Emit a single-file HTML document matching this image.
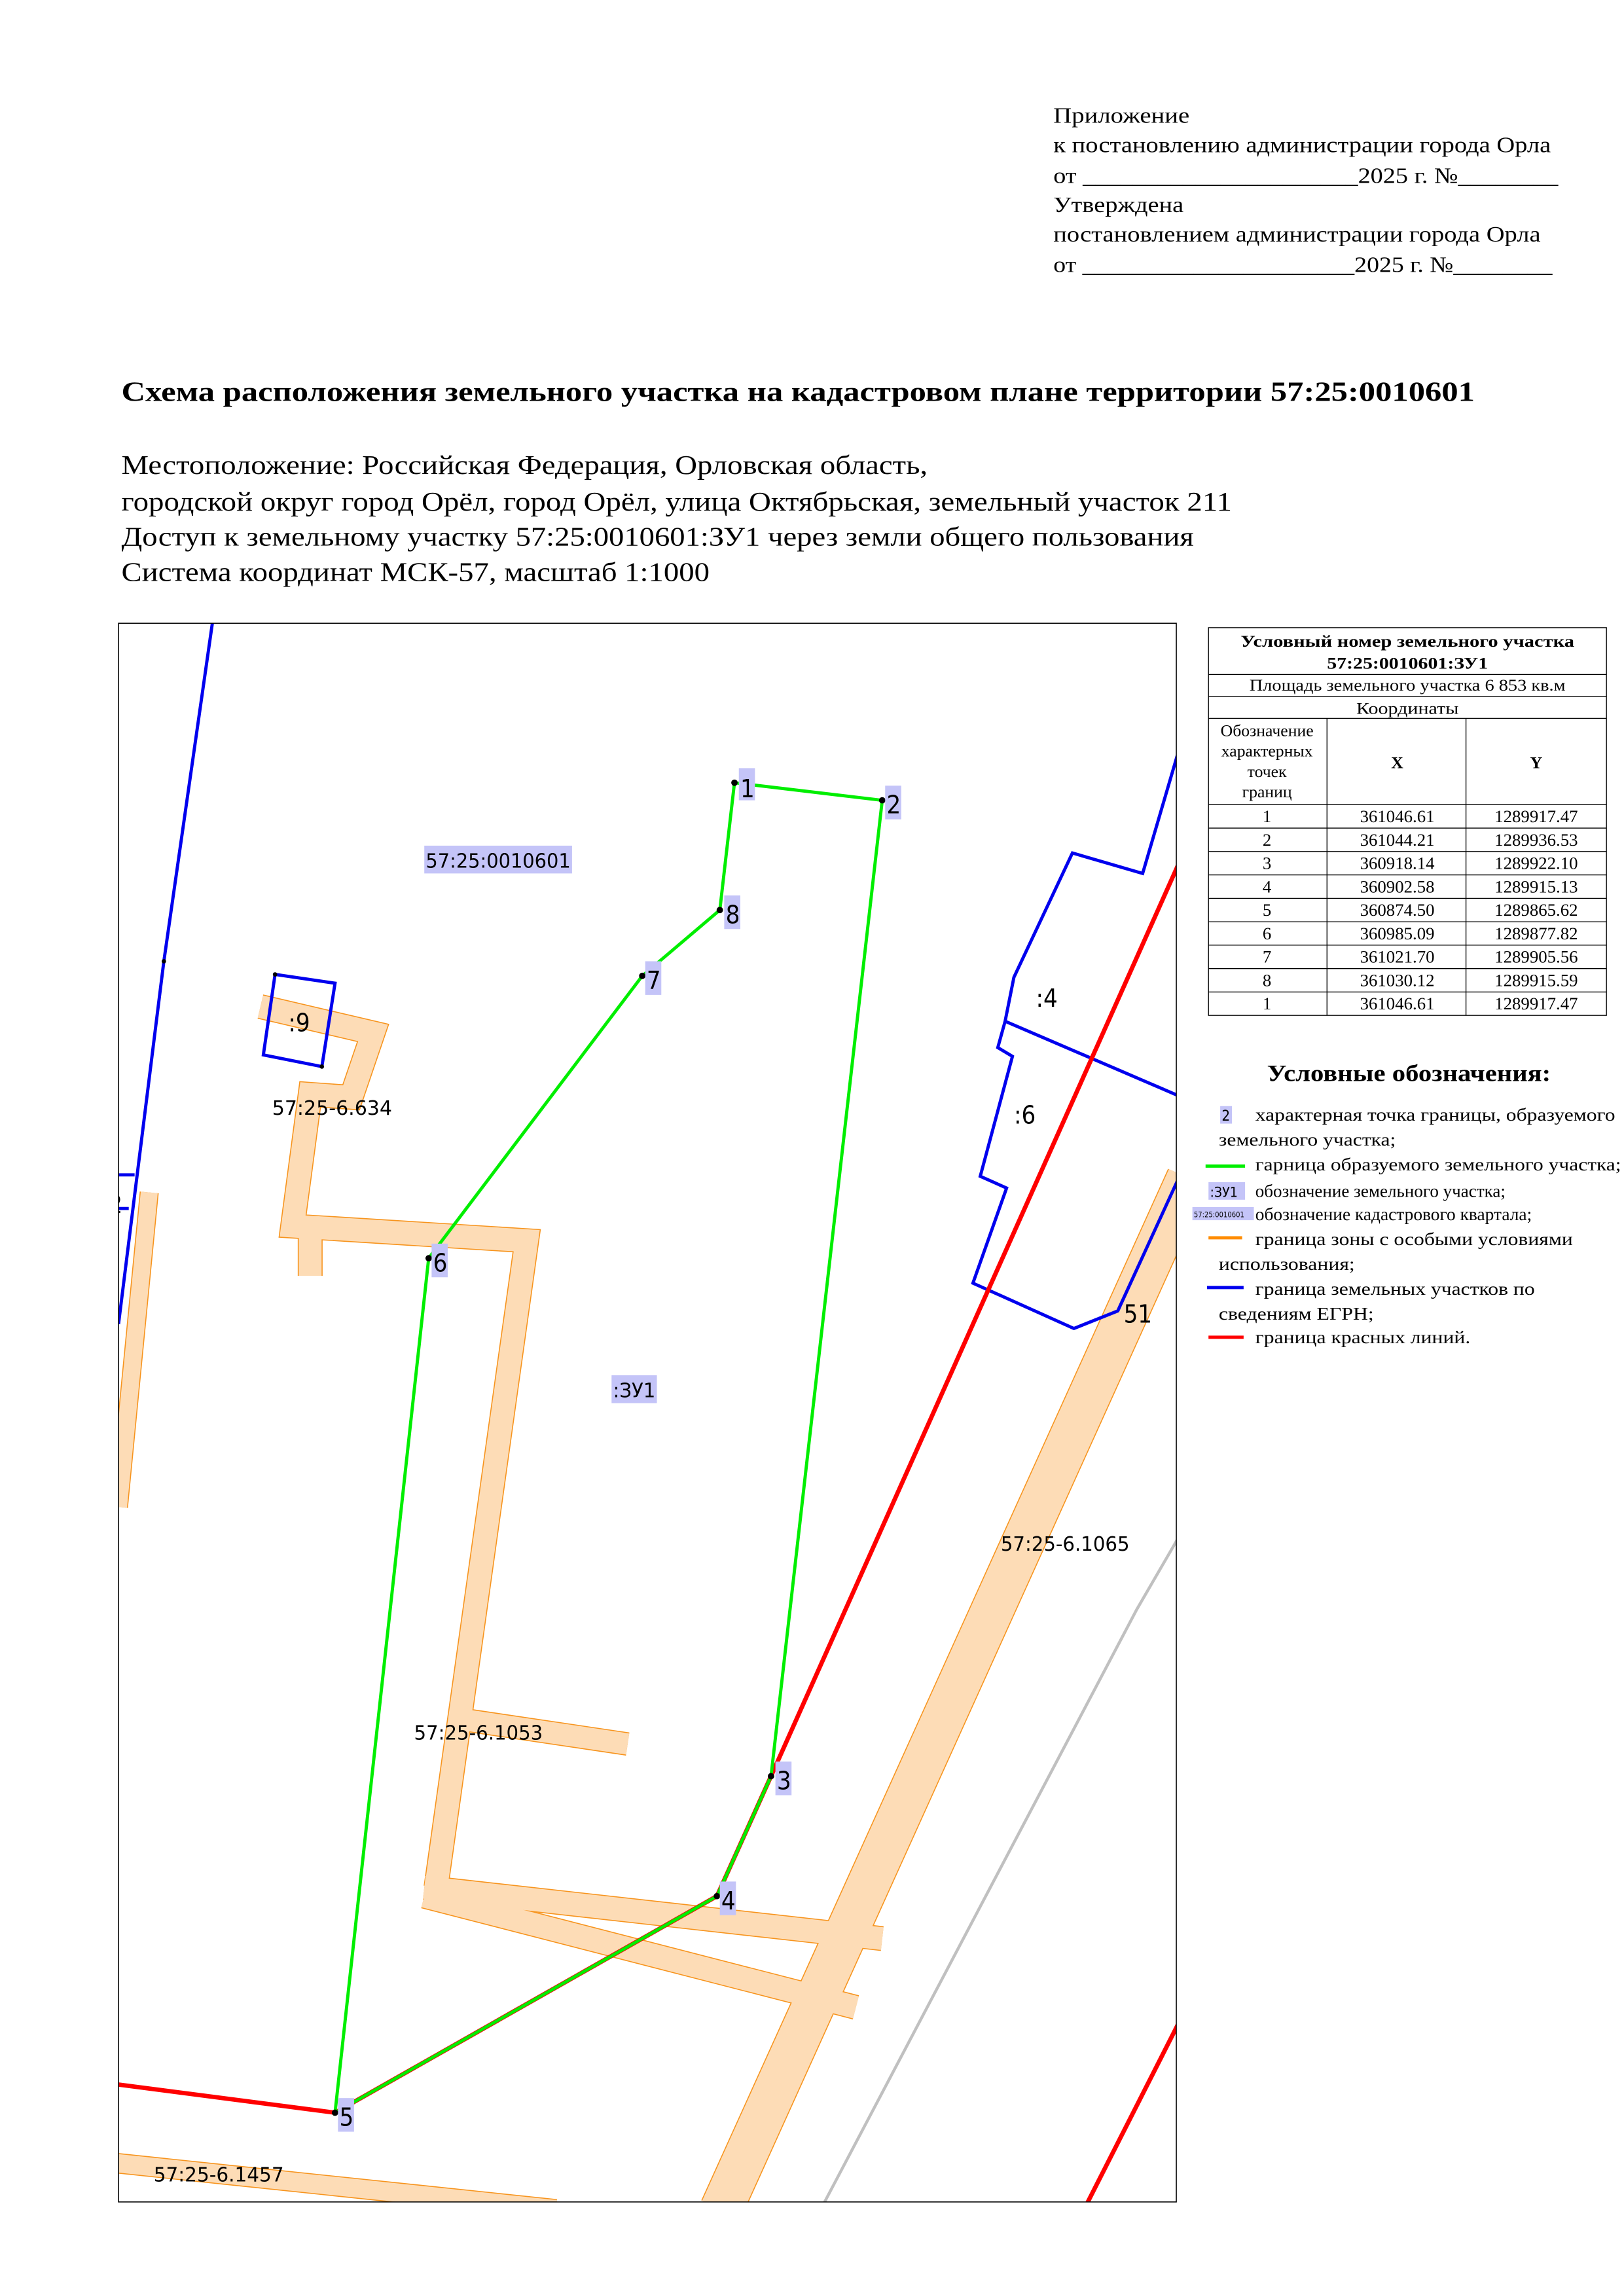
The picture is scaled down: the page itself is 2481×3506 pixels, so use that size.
<!DOCTYPE html>
<html><head><meta charset="utf-8"><style>
html,body{margin:0;padding:0;background:#fff}
svg{display:block}
.s{font-family:"Liberation Serif","DejaVu Serif",serif}
.m{font-family:"DejaVu Sans Condensed","DejaVu Sans","Liberation Sans",sans-serif}
</style></head><body>
<svg xmlns="http://www.w3.org/2000/svg" width="2481" height="3506" viewBox="0 0 1110 1568.6" preserveAspectRatio="none">
<rect width="1110" height="1569" fill="#fff"/>
<!-- header -->
<g class="s" font-size="15.2" fill="#000">
<text x="720" y="84" textLength="93" lengthAdjust="spacingAndGlyphs">Приложение</text>
<text x="720" y="104" textLength="340" lengthAdjust="spacingAndGlyphs">к постановлению администрации города Орла</text>
<text x="720" y="125" textLength="345" lengthAdjust="spacingAndGlyphs">от ______________________2025  г. №________</text>
<text x="720" y="145" textLength="89" lengthAdjust="spacingAndGlyphs">Утверждена</text>
<text x="720" y="165" textLength="333" lengthAdjust="spacingAndGlyphs">постановлением администрации города Орла</text>
<text x="720" y="186" textLength="341" lengthAdjust="spacingAndGlyphs">от ______________________2025 г. №________</text>
<text x="83" y="274" font-size="19" font-weight="bold" textLength="925" lengthAdjust="spacingAndGlyphs">Схема расположения земельного участка на кадастровом плане территории 57:25:0010601</text>
<g font-size="18.3">
<text x="83" y="324" textLength="551" lengthAdjust="spacingAndGlyphs">Местоположение: Российская Федерация, Орловская область,</text>
<text x="83" y="349" textLength="759" lengthAdjust="spacingAndGlyphs">городской округ город Орёл, город Орёл, улица Октябрьская, земельный участок 211</text>
<text x="83" y="373" textLength="733" lengthAdjust="spacingAndGlyphs">Доступ к земельному участку 57:25:0010601:ЗУ1 через земли общего пользования</text>
<text x="83" y="397" textLength="402" lengthAdjust="spacingAndGlyphs">Система координат МСК-57, масштаб 1:1000</text>
</g>
</g>
<!-- map -->
<svg x="81" y="426" width="723" height="1079" viewBox="81 426 723 1079" overflow="hidden">
<g fill="none" stroke-linejoin="miter" stroke-linecap="butt">
<g stroke="#f7941d">
<polyline stroke-width="30" points="812,805 493,1510"/>
<polyline stroke-width="17" points="178,688 255,706 240,750 212,748 200,838 360,848 298,1290"/>
<polyline stroke-width="17" points="212,835 212,872"/>
<polyline stroke-width="17" points="290,1290 603,1325"/>
<polyline stroke-width="17" points="290,1296 585,1372"/>
<polyline stroke-width="16" points="321,1176 429,1192"/>
<polyline stroke-width="13" points="102,815 81,1030"/>
<polyline stroke-width="14" points="75,1478 380,1510"/>
</g>
<g stroke="#fddcb6">
<polyline stroke-width="28.6" points="812,805 493,1510"/>
<polyline stroke-width="15.6" points="178,688 255,706 240,750 212,748 200,838 360,848 298,1290"/>
<polyline stroke-width="15.6" points="212,835 212,872"/>
<polyline stroke-width="15.6" points="290,1290 603,1325"/>
<polyline stroke-width="15.6" points="290,1296 585,1372"/>
<polyline stroke-width="14.6" points="321,1176 429,1192"/>
<polyline stroke-width="11.6" points="102,815 81,1030"/>
<polyline stroke-width="12.6" points="75,1478 380,1510"/>
</g>
<polyline stroke="#c0c0c0" stroke-width="2" points="806,1050 777,1100 561,1510"/>
<g stroke="#0000ee" stroke-width="2.2">
<polyline points="146,420 112,657 81,905"/>
<polyline points="81,803 92,803"/>
<polyline points="81,826 88,826"/>
<polygon points="188,666 229,672 220,729 180,721"/>
<polyline points="808,505 781,597 733,583 693,668 687,698 682,716 692,722 670,804 688,812 665,877 734,908 764,896 808,800"/>
<polyline points="687,698 808,750"/>
</g>
<g stroke="#ff0000" stroke-width="3">
<polyline points="808,585 527,1214 490,1296 229,1444 75,1424"/>
<polyline points="808,1378 741,1510"/>
</g>
<polygon stroke="#00ee00" stroke-width="2.2" points="502,535 603,547 527,1214 490,1296 229,1444 293,860 439,667 492,622"/>
</g>
<g fill="#000">
<circle cx="502" cy="535" r="2.2"/><circle cx="603" cy="547" r="2.2"/><circle cx="527" cy="1214" r="2.2"/>
<circle cx="490" cy="1296" r="2.2"/><circle cx="229" cy="1444" r="2.2"/><circle cx="293" cy="860" r="2.2"/>
<circle cx="439" cy="667" r="2.2"/><circle cx="492" cy="622" r="2.2"/>
<circle cx="112" cy="657" r="1.5"/><circle cx="188" cy="666" r="1.5"/><circle cx="220" cy="729" r="1.5"/>
</g>
<g fill="#c4c4f8">
<rect x="505" y="525" width="11" height="22"/><rect x="605" y="537" width="11" height="23"/>
<rect x="495" y="612" width="11" height="23"/><rect x="441" y="657" width="11" height="23"/>
<rect x="295" y="850" width="11" height="23"/><rect x="530" y="1204" width="11" height="23"/>
<rect x="492" y="1286" width="11" height="23"/><rect x="231" y="1434" width="11" height="23"/>
<rect x="290" y="578" width="101" height="19"/><rect x="418" y="940" width="31" height="19"/>
</g>
<g class="m" fill="#000" font-size="17">
<text x="506" y="545">1</text><text x="606" y="556">2</text><text x="496" y="631">8</text>
<text x="442" y="676">7</text><text x="296" y="869">6</text><text x="531" y="1223">3</text>
<text x="493" y="1305">4</text><text x="232" y="1453">5</text>
<text x="197" y="705">:9</text><text x="708" y="688">:4</text><text x="693" y="768">:6</text>
<text x="768" y="904">51</text><text x="74" y="829">2</text>
</g>
<g class="m" fill="#000" font-size="13.5">
<text x="291" y="593" textLength="99" lengthAdjust="spacingAndGlyphs">57:25:0010601</text>
<text x="419" y="955" textLength="29" lengthAdjust="spacingAndGlyphs">:ЗУ1</text>
<text x="186" y="762" textLength="82" lengthAdjust="spacingAndGlyphs">57:25-6.634</text>
<text x="283" y="1189" textLength="88" lengthAdjust="spacingAndGlyphs">57:25-6.1053</text>
<text x="684" y="1060" textLength="88" lengthAdjust="spacingAndGlyphs">57:25-6.1065</text>
<text x="105" y="1491" textLength="89" lengthAdjust="spacingAndGlyphs">57:25-6.1457</text>
</g>
</svg>
<rect x="81" y="426" width="723" height="1079" fill="none" stroke="#000" stroke-width="0.7"/>
<!-- table -->
<g fill="none" stroke="#000" stroke-width="0.6">
<rect x="826" y="429" width="272" height="265"/>
<line x1="826" y1="461" x2="1098" y2="461"/><line x1="826" y1="476" x2="1098" y2="476"/>
<line x1="826" y1="491" x2="1098" y2="491"/><line x1="826" y1="550" x2="1098" y2="550"/>
<line x1="826" y1="566" x2="1098" y2="566"/><line x1="826" y1="582" x2="1098" y2="582"/>
<line x1="826" y1="598" x2="1098" y2="598"/><line x1="826" y1="614" x2="1098" y2="614"/>
<line x1="826" y1="630" x2="1098" y2="630"/><line x1="826" y1="646" x2="1098" y2="646"/>
<line x1="826" y1="662" x2="1098" y2="662"/><line x1="826" y1="678" x2="1098" y2="678"/>
<line x1="907" y1="491" x2="907" y2="694"/><line x1="1002" y1="491" x2="1002" y2="694"/>
</g>
<g class="s" fill="#000" font-size="11.5" text-anchor="middle">
<text x="962" y="442" font-weight="bold" textLength="228" lengthAdjust="spacingAndGlyphs">Условный номер земельного участка</text>
<text x="962" y="457" font-weight="bold" textLength="110" lengthAdjust="spacingAndGlyphs">57:25:0010601:ЗУ1</text>
<text x="962" y="472" textLength="216" lengthAdjust="spacingAndGlyphs">Площадь земельного участка  6 853 кв.м</text>
<text x="962" y="488" textLength="70" lengthAdjust="spacingAndGlyphs">Координаты</text>
<text x="866" y="503">Обозначение</text><text x="866" y="517">характерных</text>
<text x="866" y="531">точек</text><text x="866" y="545">границ</text>
<text x="955" y="525" font-weight="bold">X</text><text x="1050" y="525" font-weight="bold">Y</text>
<g font-size="12">
<text x="866" y="562">1</text><text x="955" y="562">361046.61</text><text x="1050" y="562">1289917.47</text>
<text x="866" y="578">2</text><text x="955" y="578">361044.21</text><text x="1050" y="578">1289936.53</text>
<text x="866" y="594">3</text><text x="955" y="594">360918.14</text><text x="1050" y="594">1289922.10</text>
<text x="866" y="610">4</text><text x="955" y="610">360902.58</text><text x="1050" y="610">1289915.13</text>
<text x="866" y="626">5</text><text x="955" y="626">360874.50</text><text x="1050" y="626">1289865.62</text>
<text x="866" y="642">6</text><text x="955" y="642">360985.09</text><text x="1050" y="642">1289877.82</text>
<text x="866" y="658">7</text><text x="955" y="658">361021.70</text><text x="1050" y="658">1289905.56</text>
<text x="866" y="674">8</text><text x="955" y="674">361030.12</text><text x="1050" y="674">1289915.59</text>
<text x="866" y="690">1</text><text x="955" y="690">361046.61</text><text x="1050" y="690">1289917.47</text>
</g>
<text x="963" y="739" font-size="16" font-weight="bold" textLength="194" lengthAdjust="spacingAndGlyphs">Условные обозначения:</text>
</g>
<!-- legend -->
<rect x="834" y="756" width="8" height="12" fill="#c4c4f8"/>
<text x="835" y="766" class="m" font-size="10">2</text>
<rect x="826" y="808" width="25" height="12" fill="#c4c4f8"/>
<text x="827" y="818" class="m" font-size="9.5">:ЗУ1</text>
<rect x="815" y="825" width="42" height="9" fill="#c4c4f8"/>
<text x="816" y="832" class="m" font-size="5">57:25:0010601</text>
<g stroke-width="2.2">
<line x1="824" y1="797" x2="851" y2="797" stroke="#00ee00"/>
<line x1="826" y1="846" x2="849" y2="846" stroke="#ff8c00"/>
<line x1="825" y1="880" x2="850" y2="880" stroke="#0000ee"/>
<line x1="826" y1="914" x2="850" y2="914" stroke="#ff0000"/>
</g>
<g class="s" fill="#000" font-size="12.3">
<text x="858" y="766" textLength="246" lengthAdjust="spacingAndGlyphs">характерная точка границы, образуемого</text>
<text x="833" y="783" textLength="121" lengthAdjust="spacingAndGlyphs">земельного участка;</text>
<text x="858" y="800" textLength="250" lengthAdjust="spacingAndGlyphs">гарница образуемого земельного участка;</text>
<text x="858" y="818" textLength="171" lengthAdjust="spacingAndGlyphs">обозначение земельного участка;</text>
<text x="858" y="834" textLength="189" lengthAdjust="spacingAndGlyphs">обозначение кадастрового квартала;</text>
<text x="858" y="851" textLength="217" lengthAdjust="spacingAndGlyphs">граница зоны с особыми условиями</text>
<text x="833" y="868" textLength="93" lengthAdjust="spacingAndGlyphs">использования;</text>
<text x="858" y="885" textLength="191" lengthAdjust="spacingAndGlyphs">граница земельных участков по</text>
<text x="833" y="902" textLength="106" lengthAdjust="spacingAndGlyphs">сведениям ЕГРН;</text>
<text x="858" y="918" textLength="147" lengthAdjust="spacingAndGlyphs">граница красных линий.</text>
</g>
</svg>
</body></html>
